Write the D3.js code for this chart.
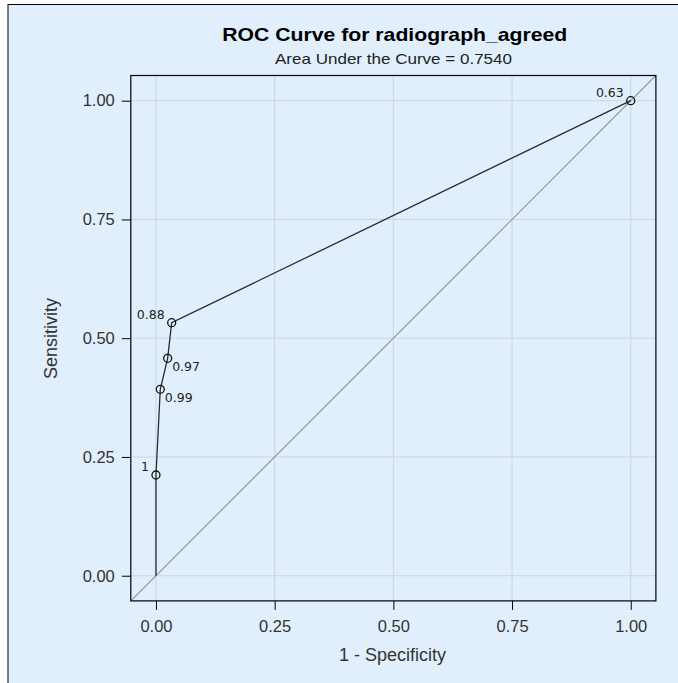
<!DOCTYPE html>
<html><head><meta charset="utf-8">
<script src="https://cdn.jsdelivr.net/npm/d3@7"></script>
<style>body{margin:0;background:#fff;}svg{display:block;font-family:"Liberation Sans",Arial,sans-serif;}</style>
</head><body>
<script>
const fpr = [0, 0, 0.0091, 0.0246, 0.0331, 1.0];
const tpr = [0, 0.2120, 0.3924, 0.4577, 0.5326, 1.0];
const cutLabels = [null, "1", "0.99", "0.97", "0.88", "0.63"];
const labelPos = [null, "ul", "lr", "lr", "ul", "ul"];
const ticks = [0, 0.25, 0.5, 0.75, 1.0];
const title = "ROC Curve for radiograph_agreed";
const subtitle = "Area Under the Curve = 0.7540";

const W = 678, H = 683;
const svg = d3.select("body").append("svg").attr("width", W).attr("height", H);
svg.append("rect").attr("x",0).attr("y",0).attr("width",W).attr("height",H).attr("fill","#fff");
svg.append("rect").attr("x",8).attr("y",4.5).attr("width",W).attr("height",H).attr("fill","#E1EFFC").attr("stroke","#000").attr("stroke-width",1);

const x = d3.scaleLinear().domain([-0.053,1.053]).range([130.8,655.9]);
const y = d3.scaleLinear().domain([-0.053,1.053]).range([600.9,75.5]);
const X0 = x(-0.053), X1 = x(1.053), Y0 = y(-0.053), Y1 = y(1.053);

// grid
const g = svg.append("g");
g.selectAll(".gx").data(ticks).enter().append("line")
 .attr("x1",d=>x(d)).attr("x2",d=>x(d)).attr("y1",Y0).attr("y2",Y1)
 .attr("stroke","#CAD5E0").attr("stroke-width",1);
g.selectAll(".gy").data(ticks).enter().append("line")
 .attr("y1",d=>y(d)).attr("y2",d=>y(d)).attr("x1",X0).attr("x2",X1)
 .attr("stroke","#CAD5E0").attr("stroke-width",1);

svg.append("clipPath").attr("id","c").append("rect").attr("x",X0).attr("y",Y1).attr("width",X1-X0).attr("height",Y0-Y1);
// diagonal
svg.append("line").attr("clip-path","url(#c)")
 .attr("x1",x(-0.053)).attr("y1",y(-0.053)).attr("x2",x(1.053)).attr("y2",y(1.053))
 .attr("stroke","#8C98A5").attr("stroke-width",1.2);

// ROC line
const pts = fpr.map((f,i)=>({f, t:tpr[i], lab:cutLabels[i], pos:labelPos[i]}));
svg.append("path").datum(pts).attr("fill","none").attr("stroke","#2a2a2a").attr("stroke-width",1.3)
 .attr("d", d3.line().x(d=>x(d.f)).y(d=>y(d.t)));
const mk = pts.filter(d=>d.lab!==null);
svg.selectAll(".pt").data(mk).enter().append("circle")
 .attr("cx",d=>x(d.f)).attr("cy",d=>y(d.t)).attr("r",4)
 .attr("fill","none").attr("stroke","#111").attr("stroke-width",1.3);
svg.selectAll(".lb").data(mk).enter().append("text")
 .attr("x",d=>x(d.f)+(d.pos==="ul"?-7:4.5))
 .attr("y",d=>y(d.t)+(d.pos==="ul"?-4:13))
 .attr("text-anchor",d=>d.pos==="ul"?"end":"start")
 .attr("font-family","'DejaVu Sans',sans-serif")
 .attr("font-size",12.5).attr("fill","#222").text(d=>d.lab);

// frame
svg.append("rect").attr("x",X0).attr("y",Y1).attr("width",X1-X0).attr("height",Y0-Y1)
 .attr("fill","none").attr("stroke","#000").attr("stroke-width",1.2);

// axes
const xa = svg.append("g").attr("transform",`translate(0,${Y0})`)
 .call(d3.axisBottom(x).tickValues(ticks).tickFormat(d3.format(".2f")).tickSizeInner(9).tickSizeOuter(0).tickPadding(10.5));
const ya = svg.append("g").attr("transform",`translate(${X0},0)`)
 .call(d3.axisLeft(y).tickValues(ticks).tickFormat(d3.format(".2f")).tickSizeInner(9).tickSizeOuter(0).tickPadding(7));
[xa,ya].forEach(a=>{
  a.select(".domain").remove();
  a.selectAll("line").attr("stroke","#000");
  a.selectAll("text").attr("font-size",16.5).attr("fill","#333").attr("font-family","'Liberation Sans',Arial,sans-serif");
});

// titles
svg.append("text").attr("x",394.8).attr("y",40.7).attr("text-anchor","middle")
 .attr("font-size",19).attr("font-weight","bold").attr("fill","#000")
 .attr("textLength",345).attr("lengthAdjust","spacingAndGlyphs").text(title);
svg.append("text").attr("x",393.5).attr("y",64.3).attr("text-anchor","middle")
 .attr("font-size",15).attr("fill","#222")
 .attr("textLength",237).attr("lengthAdjust","spacingAndGlyphs").text(subtitle);
svg.append("text").attr("x",392.5).attr("y",660.7).attr("text-anchor","middle")
 .attr("font-size",18).attr("fill","#333").text("1 - Specificity");
svg.append("text").attr("transform","translate(57,338.5) rotate(-90)").attr("text-anchor","middle")
 .attr("font-size",18).attr("fill","#333").text("Sensitivity");
</script>
</body></html>
